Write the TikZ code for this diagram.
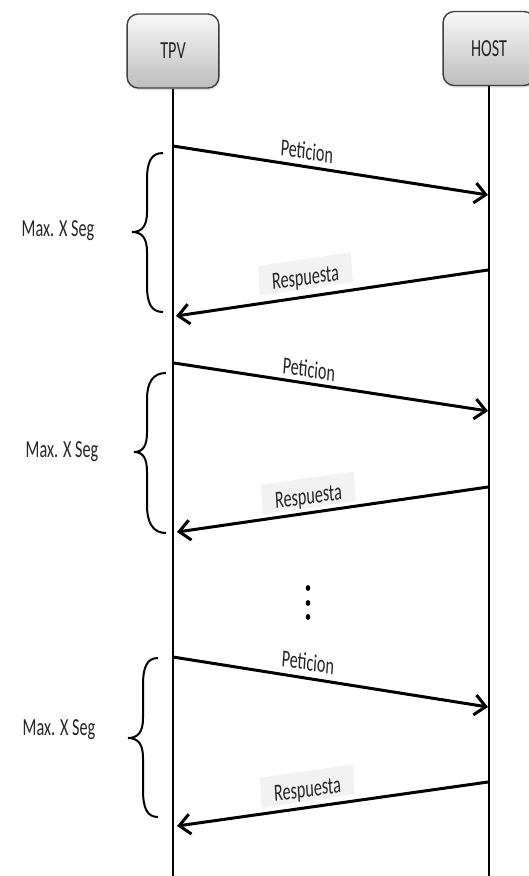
\documentclass[tikz,border=0pt]{standalone}
\usepackage{fontspec}
\setmainfont{Carlito}
\usetikzlibrary{arrows.meta,shadows}
\begin{document}
\begin{tikzpicture}[x=1pt,y=-1pt,
  actor/.style={draw=black!75, line width=1.4pt, rounded corners=11pt,
    top color=gray!5, bottom color=gray!52, minimum width=139pt, minimum height=74pt,
    xscale=0.66, font=\fontsize{24.5}{28}\selectfont, text=black!85,
    drop shadow={opacity=0.25, shadow xshift=1pt, shadow yshift=-2pt}},
  lifeline/.style={line width=2.7pt, black},
  msg/.style={line width=3pt, black, -{Straight Barb[length=11pt,width=20pt]}},
  lbl/.style={font=\fontsize{24.5}{28}\selectfont, text=black!85, inner sep=0pt, xscale=0.66},
  reqlbl/.style={lbl, rotate=-5.9},
  replbl/.style={lbl, fill=gray!10, inner xsep=20pt, inner ysep=2pt, text height=24pt,
    text depth=2pt, anchor=base, rotate=5.5},
  bracel/.style={line width=2pt, black}
]
\useasboundingbox (0,0) rectangle (528,876);
\fill[white] (0,0) rectangle (528,876);

% actors
\node[actor] (tpv) at (173,51) {TPV};
\node[actor] (host) at (489,48.5) {HOST};
\coordinate (bot) at (0,876);

% lifelines
\draw[lifeline] (tpv.south) -- (tpv.south |- bot);
\draw[lifeline] (host.south) -- (host.south |- bot);

% message end points
\coordinate (a1s) at (173,146); \coordinate (a1e) at (488,195);
\coordinate (r1s) at (488,270); \coordinate (r1e) at (176,316);
\coordinate (a2s) at (174,363); \coordinate (a2e) at (488,411);
\coordinate (r2s) at (488,487); \coordinate (r2e) at (177,532);
\coordinate (a3s) at (173,657); \coordinate (a3e) at (488,707);
\coordinate (r3s) at (488,782); \coordinate (r3e) at (177,826);

\draw[msg] (a1s) -- (a1e);
\draw[msg] (r1s) -- (r1e);
\draw[msg] (a2s) -- (a2e);
\draw[msg] (r2s) -- (r2e);
\draw[msg] (a3s) -- (a3e);
\draw[msg] (r3s) -- (r3e);

% message labels
\node[reqlbl] (p1) at (307,151) {Peticion};
\node[replbl] (q1) at (306,285) {Respuesta};
\node[reqlbl] (p2) at (309,369) {Peticion};
\node[replbl] (q2) at (309,504) {Respuesta};
\node[reqlbl] (p3) at (308,662) {Peticion};
\node[replbl] (q3) at (308,797) {Respuesta};

% braces
\draw[bracel] (163,153) .. controls (151,153) and (147,162) .. (147,180) -- (147,212)
  .. controls (147,226) and (142,232) .. (132,232)
  .. controls (142,232) and (147,238) .. (147,252) -- (147,285)
  .. controls (147,303) and (151,312) .. (163,312);
\draw[bracel] (166,373) .. controls (153,373) and (147,382) .. (147,400) -- (147,432)
  .. controls (147,446) and (143,452) .. (134,452)
  .. controls (143,452) and (147,458) .. (147,472) -- (147,505)
  .. controls (147,523) and (153,533) .. (166,533);
\draw[bracel] (158,658) .. controls (147,658) and (143,667) .. (143,685) -- (143,718)
  .. controls (143,732) and (138,738) .. (128,738)
  .. controls (138,738) and (143,744) .. (143,758) -- (143,790)
  .. controls (143,808) and (147,817) .. (158,817);

% brace labels
\node[lbl] (m1) at (58,231) {Max. X Seg};
\node[lbl] (m2) at (62,452) {Max. X Seg};
\node[lbl] (m3) at (59,730) {Max. X Seg};

% continuation dots
\fill[black] (308,588) ellipse [x radius=2.3pt, y radius=3pt];
\fill[black] (308,603) ellipse [x radius=2.3pt, y radius=3pt];
\fill[black] (308,617) ellipse [x radius=2.3pt, y radius=3pt];
\end{tikzpicture}
\end{document}
